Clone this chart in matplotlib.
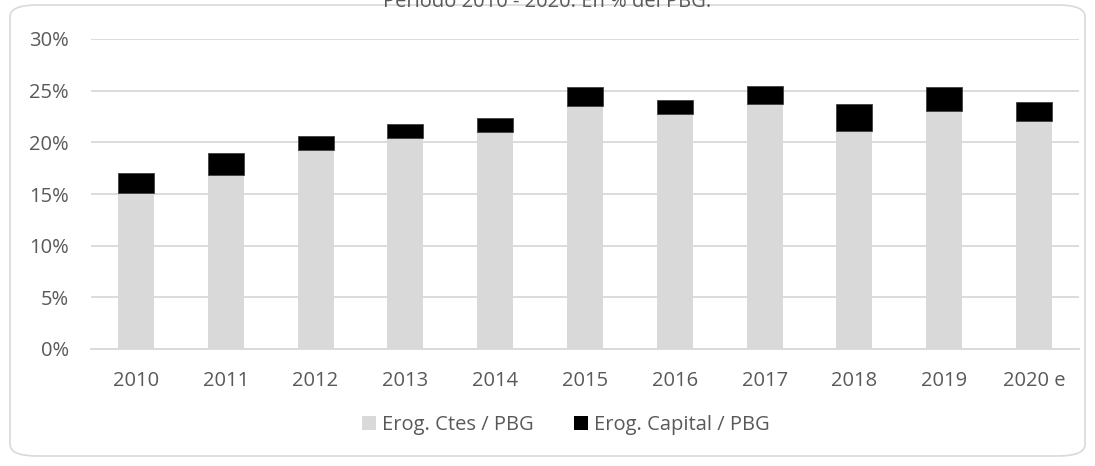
import numpy as np
import matplotlib.pyplot as plt
from matplotlib.patches import FancyBboxPatch, Patch
from matplotlib.ticker import PercentFormatter

# --- data (% of PBG) ---
years = ['2010', '2011', '2012', '2013', '2014', '2015', '2016', '2017', '2018', '2019', '2020 e']
ctes = [15.1, 16.8, 19.3, 20.4, 21.0, 23.5, 22.7, 23.7, 21.1, 23.0, 22.1]
capital = [1.9, 2.2, 1.35, 1.4, 1.4, 1.9, 1.4, 1.8, 2.6, 2.4, 1.8]
title = 'Período 2010 - 2020. En % del PBG.'

GRAY = '#d9d9d9'
TXT = '#595959'
FS = 14.5

plt.rcParams['font.family'] = ['Open Sans', 'DejaVu Sans']

W, H = 1095, 466
fig = plt.figure(figsize=(W / 100, H / 100), dpi=100)

# rounded chart frame
frame = FancyBboxPatch((10 / W, 10 / H), 1075 / W, 451 / H,
                       boxstyle='round,pad=0,rounding_size=0.025',
                       transform=fig.transFigure, facecolor='none',
                       edgecolor=GRAY, linewidth=1.2, zorder=-1)
fig.patches.append(frame)

ax = fig.add_axes([91 / W, 1 - 349 / H, (1079 - 91) / W, (349 - 39) / H])
ax.set_facecolor('none')

x = np.arange(len(years))
ax.bar(x, ctes, width=0.4, color=GRAY, zorder=2, label='Erog. Ctes / PBG')
ax.bar(x, capital, width=0.4, bottom=ctes, color='black', edgecolor='#404040',
       linewidth=0.6, zorder=2, label='Erog. Capital / PBG')

ax.set_ylim(0, 30)
ax.set_xlim(-0.5, len(years) - 0.5)
ax.set_yticks(np.arange(0, 31, 5))
ax.yaxis.set_major_formatter(PercentFormatter(decimals=0))
ax.set_xticks(x)
ax.set_xticklabels(years)
ax.grid(axis='y', color=GRAY, linewidth=1.3, zorder=0)
ax.set_axisbelow(True)
for s in ['top', 'right', 'left']:
    ax.spines[s].set_visible(False)
ax.spines['bottom'].set_color(GRAY)
ax.spines['bottom'].set_linewidth(1.3)
ax.tick_params(axis='both', length=0, labelsize=FS, colors=TXT)
ax.tick_params(axis='y', pad=16)
ax.tick_params(axis='x', pad=16)

fig.text(0.5, 1 - 7 / H, title, ha='center', va='baseline', fontsize=FS, color=TXT)

handles = [Patch(facecolor=GRAY, edgecolor='none'),
           Patch(facecolor='black', edgecolor='none')]
fig.legend(handles, ['Erog. Ctes / PBG', 'Erog. Capital / PBG'],
           loc='center', bbox_to_anchor=(0.517, 1 - 425 / H), ncol=2,
           frameon=False, fontsize=FS, labelcolor=TXT,
           handlelength=0.7, handleheight=0.7, handletextpad=0.3,
           columnspacing=2.0)

fig.savefig('out.png', dpi=100)
